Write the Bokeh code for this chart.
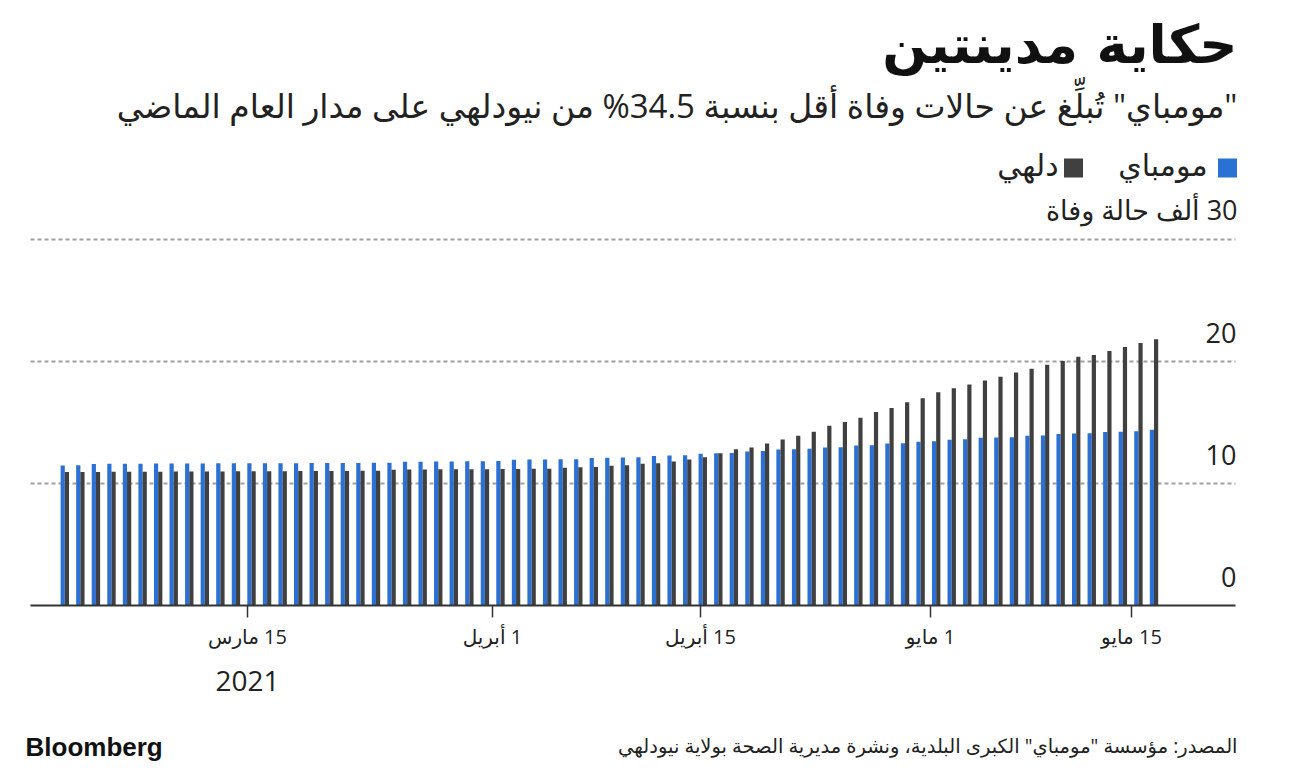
from bokeh.plotting import figure
from bokeh.models import Range1d, FixedTicker, ColumnDataSource, LinearAxis
from bokeh.core.properties import value
from bokeh.transform import dodge
from bokeh.layouts import column
from bokeh.embed import file_html
from bokeh.resources import INLINE

# ---------------- data (thousands of deaths, cumulative) ----------------
mumbai = [
    11.48, 11.50, 11.60, 11.61, 11.62, 11.62, 11.63, 11.63, 11.64, 11.64,
    11.65, 11.65, 11.66, 11.66, 11.67, 11.67, 11.68, 11.68, 11.69, 11.69,
    11.70, 11.70, 11.78, 11.79, 11.80, 11.81, 11.82, 11.83, 11.84, 11.94,
    11.96, 11.97, 11.98, 11.99, 12.10, 12.12, 12.14, 12.16, 12.26, 12.29,
    12.31, 12.44, 12.47, 12.50, 12.62, 12.66, 12.78, 12.81, 12.84, 12.95,
    12.98, 13.11, 13.14, 13.27, 13.30, 13.42, 13.46, 13.58, 13.62, 13.74,
    13.77, 13.80, 13.91, 13.94, 14.06, 14.09, 14.12, 14.22, 14.25, 14.28,
    14.41]
delhi = [
    10.94, 10.95, 10.95, 10.96, 10.96, 10.97, 10.97, 10.98, 10.98, 10.99,
    10.99, 11.00, 11.00, 11.01, 11.01, 11.02, 11.02, 11.03, 11.03, 11.04,
    11.04, 11.13, 11.14, 11.15, 11.16, 11.16, 11.17, 11.17, 11.18, 11.19,
    11.20, 11.21, 11.30, 11.33, 11.36, 11.46, 11.50, 11.62, 11.66, 11.80,
    11.97, 12.15, 12.47, 12.80, 12.96, 13.28, 13.60, 13.92, 14.25, 14.73,
    15.05, 15.38, 15.86, 16.18, 16.67, 16.99, 17.47, 17.80, 18.12, 18.44,
    18.76, 19.09, 19.41, 19.73, 20.05, 20.38, 20.54, 20.86, 21.18, 21.51,
    21.83]
days = list(range(len(mumbai)))

tick_positions = [11.74, 27.48, 40.85, 55.63, 68.55]
tick_labels = ["15 مارس", "1 أبريل", "15 أبريل", "1 مايو", "15 مايو"]
y_ticks = [0, 10, 20]
grid_values = [10, 20, 30]
series_names = ["مومباي", "دلهي"]

title = "حكاية مدينتين"
subtitle = "\"مومباي\" تُبلِّغ عن حالات وفاة أقل بنسبة 34.5% من نيودلهي على مدار العام الماضي"
unit_label = "30 ألف حالة وفاة"
year_label = "2021"
source = "المصدر: مؤسسة \"مومباي\" الكبرى البلدية، ونشرة مديرية الصحة بولاية نيودلهي"
brand = "Bloomberg"

# ---------------- layout helpers (page pixels) ----------------
W = 1296
MAIN_H = 710
FOOT_H = 772 - MAIN_H
BASE = 605          # page y of the zero line
PX_X = 15.56        # px per bar slot
X0 = 64.3           # page x of first slot
PX_Y = 12.2         # px per thousand
RLM = "\u200f"

def X(px):
    return (px - X0) / PX_X

def Y(py):
    return (BASE - py) / PX_Y

BLUE = "#2b70d4"
DARK = "#404040"
AR = "'Open Sans', 'DejaVu Sans'"

p = figure(width=W, height=MAIN_H, output_backend="svg", toolbar_location=None,
           x_range=Range1d(X(0), X(W)), y_range=Range1d(0, Y(0)),
           y_axis_location=None, title=None,
           min_border_left=0, min_border_right=0, min_border_top=0,
           min_border_bottom=MAIN_H - BASE,
           outline_line_color=None, background_fill_color="white",
           border_fill_color="white")
p.grid.visible = False

# gridlines
p.segment(x0=[X(30)] * len(grid_values), x1=[X(1235)] * len(grid_values),
          y0=grid_values, y1=grid_values, line_color="#a0a0a0",
          line_width=2, line_dash="4 3")

src = ColumnDataSource(dict(day=days, mumbai=mumbai, delhi=delhi))
p.vbar(x=dodge("day", -0.135, range=p.x_range), top="mumbai", bottom=0,
       width=0.27, source=src, fill_color=BLUE, line_color=None)
p.vbar(x=dodge("day", 0.135, range=p.x_range), top="delhi", bottom=0,
       width=0.27, source=src, fill_color=DARK, line_color=None)

# x axis
ax = p.xaxis[0]
ax.ticker = FixedTicker(ticks=tick_positions)
ax.major_label_overrides = {t: RLM + l for t, l in zip(tick_positions, tick_labels)}
ax.bounds = (X(30), X(1235))
ax.axis_line_color = "#333333"
ax.axis_line_width = 2
ax.major_tick_out = 12
ax.major_tick_in = 0
ax.minor_tick_out = 0
ax.minor_tick_in = 0
ax.major_tick_line_color = "#333333"
ax.major_tick_line_width = 1.5
ax.major_label_standoff = 5
ax.major_label_text_font_size = "20px"
ax.major_label_text_font = AR
ax.major_label_text_color = "#222222"

# year as a second axis row
ax2 = LinearAxis(ticker=FixedTicker(ticks=[tick_positions[0]]),
                 major_label_overrides={tick_positions[0]: year_label},
                 axis_line_color=None, major_tick_line_color=None,
                 minor_tick_line_color=None, major_tick_out=0, major_tick_in=0,
                 minor_tick_out=0, minor_tick_in=0, major_label_standoff=18,
                 major_label_text_font_size="28px", major_label_text_font=AR,
                 major_label_text_color="#222222")
p.add_layout(ax2, "below")

# y labels (right, above the lines)
p.text(x=[X(1236)] * len(y_ticks), y=[v + 2.3 for v in y_ticks],
       text=[str(v) for v in y_ticks], text_align="right",
       text_baseline="alphabetic", text_font=value(AR),
       text_font_size="27px", text_color="#222222")

# header texts
p.text(x=[X(1237)], y=[Y(44)], text=[title], text_align="right",
       text_baseline="alphabetic", text_font=value("DejaVu Sans"),
       text_font_style="bold", text_font_size="53px", text_color="#111111")
p.text(x=[X(1237)], y=[Y(105)], text=[RLM + subtitle], text_align="right",
       text_baseline="alphabetic", text_font=value(AR),
       text_font_size="33px", text_color="#222222")
p.text(x=[X(1237)], y=[Y(209)], text=[RLM + unit_label], text_align="right",
       text_baseline="alphabetic", text_font=value(AR),
       text_font_size="27px", text_color="#222222")

# legend
p.scatter(x=[X(1227), X(1073)], y=[Y(167.5)] * 2, marker="square", size=19,
          fill_color=[BLUE, DARK], line_color=None)
p.text(x=[X(1207), X(1058)], y=[Y(164)] * 2, text=[RLM + s for s in series_names],
       text_align="right", text_baseline="alphabetic", text_font=value(AR),
       text_font_size="30px", text_color="#222222")

# ---------------- footer ----------------
f = figure(width=W, height=FOOT_H, output_backend="svg", toolbar_location=None,
           x_range=Range1d(0, W), y_range=Range1d(FOOT_H, 0),
           x_axis_location=None, y_axis_location=None, title=None,
           min_border_left=0, min_border_right=0, min_border_top=0,
           min_border_bottom=0, outline_line_color=None,
           background_fill_color="white", border_fill_color="white")
f.grid.visible = False
f.text(x=[25], y=[754 - MAIN_H - 8], text=[brand], text_align="left",
       text_baseline="alphabetic", text_font=value("Liberation Sans"),
       text_font_style="bold", text_font_size="26px", text_color="#111111")
f.text(x=[1237], y=[753 - MAIN_H - 8], text=[RLM + source], text_align="right",
       text_baseline="alphabetic", text_font=value(AR),
       text_font_size="19.5px", text_color="#222222")

open("out.html", "w").write(file_html(column(p, f, spacing=0), INLINE))
